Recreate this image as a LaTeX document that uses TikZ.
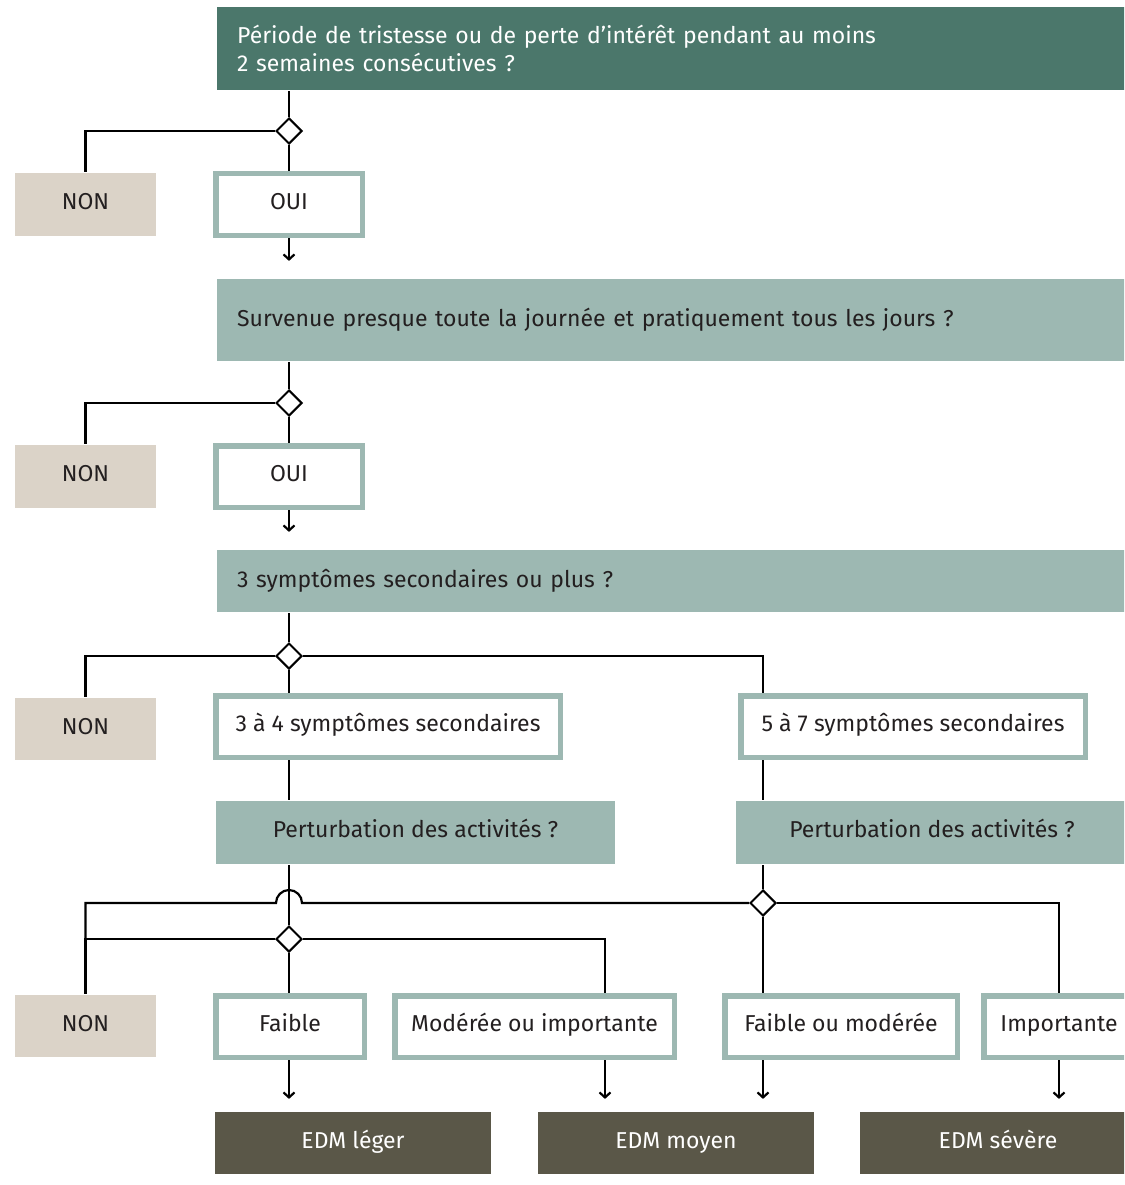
\documentclass[tikz,border=0pt]{standalone}
\usepackage{fontspec}
\setmainfont{Fira Sans}
\usetikzlibrary{shapes.geometric,arrows.meta}
\definecolor{vertfonce}{HTML}{4B776B}
\definecolor{vertclair}{HTML}{9DB8B2}
\definecolor{beige}{HTML}{DBD3C8}
\definecolor{olive}{HTML}{5A5748}
\definecolor{encre}{HTML}{231F20}
\tikzset{
  ligne/.style={text height=16pt, text depth=6pt},
  question/.style={fill=vertclair, text=encre, anchor=west, minimum height=#1,
    text width=868pt, inner xsep=20pt, align=left},
  reponse/.style={ligne, draw=vertclair, line width=5.5pt, fill=white, text=encre,
    minimum width=#1, minimum height=61.5pt, inner sep=0pt},
  nonbox/.style={ligne, fill=beige, text=encre, minimum width=141pt, minimum height=#1},
  perturb/.style={ligne, fill=vertclair, text=encre, minimum width=#1, minimum height=63pt},
  edm/.style={ligne, fill=olive, text=white, minimum width=276pt, minimum height=62pt},
  choix/.style={diamond, draw, fill=white, line width=2pt, minimum width=26pt,
    minimum height=26pt, inner sep=0pt},
  fleche/.style={-{Straight Barb[length=5pt,width=11pt]}, shorten >=#1}
}
\begin{document}
\begin{tikzpicture}[x=1pt, y=-1pt, line width=2.2pt,
  font=\fontsize{23}{28}\selectfont]
\useasboundingbox (0,0) rectangle (1124,1185);
\clip (0,0) rectangle (1124,1185);

% questions
\node[question=83pt, fill=vertfonce, text=white] (q1) at (216,48.5)
  {Période de tristesse ou de perte d’intérêt pendant au moins\\2 semaines consécutives ?};
\node[question=82pt] (q2) at (216,320)
  {Survenue presque toute la journée et pratiquement tous les jours ?};
\node[question=62pt] (q3) at (216,581) {3 symptômes secondaires ou plus ?};

% diamonds
\node[choix] (d1) at (289,131) {};
\node[choix] (d2) at (289,403) {};
\node[choix] (d3) at (289,656) {};
\node[choix] (d4) at (289,939) {};
\node[choix] (d5) at (763,903) {};

% answers
\node[nonbox=63pt] (non1) at (85.5,204.5) {NON};
\node[reponse=146.5pt] (oui1) at (289,204.5) {OUI};
\node[nonbox=63pt] (non2) at (85.5,476.5) {NON};
\node[reponse=146.5pt] (oui2) at (289,476.5) {OUI};
\node[nonbox=62pt] (non3) at (85.5,729) {NON};
\node[reponse=344.5pt] (s34) at (388,726.5) {3 à 4 symptômes secondaires};
\node[reponse=344.5pt] (s57) at (913,726.5) {5 à 7 symptômes secondaires};

\node[perturb=399pt] (p34) at (415.5,832.5) {Perturbation des activités ?};
\node[perturb=392pt] (p57) at (932,832.5) {Perturbation des activités ?};

\node[nonbox=62pt] (non4) at (85.5,1026) {NON};
\node[reponse=148.5pt] (faible) at (290,1026.5) {Faible};
\node[reponse=279.5pt] (modere) at (534.5,1026.5) {Modérée ou importante};
\node[reponse=232.5pt] (fm) at (841,1026.5) {Faible ou modérée};
\node[reponse=150.5pt] (imp) at (1059,1026.5) {Importante};

\node[edm] (leger) at (353,1143) {EDM léger};
\node[edm] (moyen) at (676,1143) {EDM moyen};
\node[edm] (severe) at (998,1143) {EDM sévère};

% connectors
\draw (d1 |- q1.south) -- (d1.north);
\draw (d1.west) -| (non1.north);
\draw (d1.south) -- (oui1.north);
\draw[fleche=17pt] (oui1.south) -- (oui1 |- q2.north);

\draw (d2 |- q2.south) -- (d2.north);
\draw (d2.west) -| (non2.north);
\draw (d2.south) -- (oui2.north);
\draw[fleche=17pt] (oui2.south) -- (oui2 |- q3.north);

\draw (d3 |- q3.south) -- (d3.north);
\draw (d3.west) -| (non3.north);
\draw (d3.south) -- (d3 |- s34.north);
\draw (d3.east) -| (d5 |- s57.north);
\draw (d3 |- s34.south) -- (d3 |- p34.north);
\draw (d5 |- s57.south) -- (d5 |- p57.north);

\draw (d4 |- p34.south) -- (d4.north);
\draw (d5 |- p57.south) -- (d5.north);
\draw (d5.west) -- ([xshift=13pt]d4 |- d5)
  arc[start angle=0, end angle=-180, radius=13] -- (non4.north |- d5) -- (non4.north);
\draw (d5.east) -| (imp.north);
\draw (d4.west) -| (non4.north);
\draw (d4.east) -| ([xshift=70.5pt]modere.north);
\draw (d4.south) -- (d4 |- faible.north);
\draw (d5.south) -- (d5 |- fm.north);

\draw[fleche=12pt] (d4 |- faible.south) -- (d4 |- leger.north);
\draw[fleche=12pt] ([xshift=70.5pt]modere.south) -- ([xshift=70.5pt]modere.south |- moyen.north);
\draw[fleche=12pt] (d5 |- fm.south) -- (d5 |- moyen.north);
\draw[fleche=12pt] (imp.south) -- (imp.south |- severe.north);
\end{tikzpicture}
\end{document}
